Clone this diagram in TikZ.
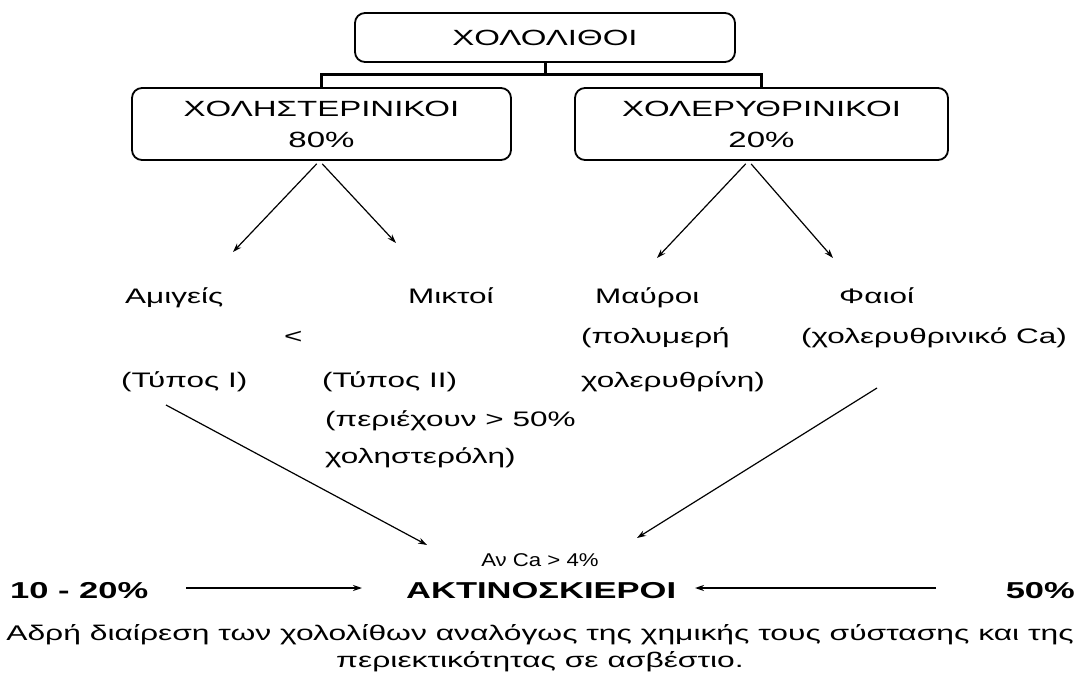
\documentclass[tikz,border=0pt]{standalone}
\usepackage{fontspec}
\setmainfont[FakeStretch=1.5]{Liberation Sans}
\newfontfamily\narrowsans[FakeStretch=1.2]{Liberation Sans}
\usetikzlibrary{arrows.meta}
\tikzset{
  box/.style={draw, line width=1.8pt, rounded corners=10pt, inner sep=0pt, align=center,
    font=\fontsize{22}{31}\selectfont},
  brk/.style={line width=3pt},
  lbl/.style={inner sep=0pt, anchor=base west, font=\fontsize{21}{24}\selectfont},
  arr/.style={line width=1.2pt, -{Stealth[length=9pt,width=6pt]}},
  harr/.style={line width=1.8pt, -{Stealth[length=9pt,width=6pt]}},
  big/.style={inner sep=0pt, anchor=base west, font=\bfseries\fontsize{23}{27}\selectfont},
  capt/.style={inner sep=0pt, anchor=base, font=\fontsize{21.2}{25}\selectfont}
}
\begin{document}
\begin{tikzpicture}[x=1pt,y=-1pt]
\useasboundingbox (0,0) rectangle (1079,676);
% boxes
\node[box, minimum width=380pt, minimum height=49pt] (top) at (545,37.5) {ΧΟΛΟΛΙΘΟΙ};
\node[box, minimum width=379pt, minimum height=72pt] (lbox) at (321.5,124) {ΧΟΛΗΣΤΕΡΙΝΙΚΟΙ\\80\%};
\node[box, minimum width=373pt, minimum height=72pt] (rbox) at (761.5,124) {ΧΟΛΕΡΥΘΡΙΝΙΚΟΙ\\20\%};
% bracket
\coordinate (br) at (545,75);
\draw[brk] (top.south) -- (br);
\draw[brk] (lbox.north) |- (br) -| (rbox.north);
% labels
\node[lbl] (amig) at (125,304) {Αμιγείς};
\node[lbl] (mikt) at (408,304) {Μικτοί};
\node[lbl] (mavr) at (595,304) {Μαύροι};
\node[lbl] (faio) at (839,304) {Φαιοί};
\node[lbl] (lt) at (284,343) {<};
\node[lbl] (poly) at (581,343) {(πολυμερή};
\node[lbl] (xca) at (801,343) {(χολερυθρινικό Ca)};
\node[lbl] (t1) at (121,387) {(Τύπος Ι)};
\node[lbl] (t2) at (322,387) {(Τύπος ΙΙ)};
\node[lbl] (xol) at (581,387) {χολερυθρίνη)};
\node[lbl] (per) at (325,426) {(περιέχουν > 50\%};
\node[lbl] (chst) at (325,463) {χοληστερόλη)};
% arrows from boxes
\coordinate (aA) at (233,252);
\coordinate (aM) at (396,243);
\coordinate (aMa) at (657,258);
\coordinate (aF) at (833,258);
\draw[arr, shorten <=4pt] ([xshift=-2pt]lbox.south) -- (aA);
\draw[arr, shorten <=4pt] ([xshift=-2pt]lbox.south) -- (aM);
\draw[arr, shorten <=4pt] ([xshift=-13pt]rbox.south) -- (aMa);
\draw[arr, shorten <=4pt] ([xshift=-13pt]rbox.south) -- (aF);
% bottom
\node[inner sep=0pt, anchor=base, font=\narrowsans\fontsize{18.5}{22}\selectfont] (anca) at (540,566) {Αν Ca > 4\%};
\node[big] (p1020) at (10,598) {10 - 20\%};
\node[big] (akt) at (406,598) {ΑΚΤΙΝΟΣΚΙΕΡΟΙ};
\node[big, anchor=base east] (p50) at (1075,598) {50\%};
\coordinate (s1) at (166,405);
\coordinate (e1) at (427,545);
\coordinate (s2) at (877,388);
\coordinate (e2) at (637,538);
\draw[arr] (s1) -- (e1);
\draw[arr] (s2) -- (e2);
\coordinate (h1s) at (186,588);
\coordinate (h1e) at (362,588);
\coordinate (h2s) at (936,588);
\coordinate (h2e) at (695,588);
\draw[harr] (h1s) -- (h1e);
\draw[harr] (h2s) -- (h2e);
% caption
\node[capt] (cap1) at (540,640) {Αδρή διαίρεση των χολολίθων αναλόγως της χημικής τους σύστασης και της};
\node[capt] (cap2) at (540,667) {περιεκτικότητας σε ασβέστιο.};
\end{tikzpicture}
\end{document}
